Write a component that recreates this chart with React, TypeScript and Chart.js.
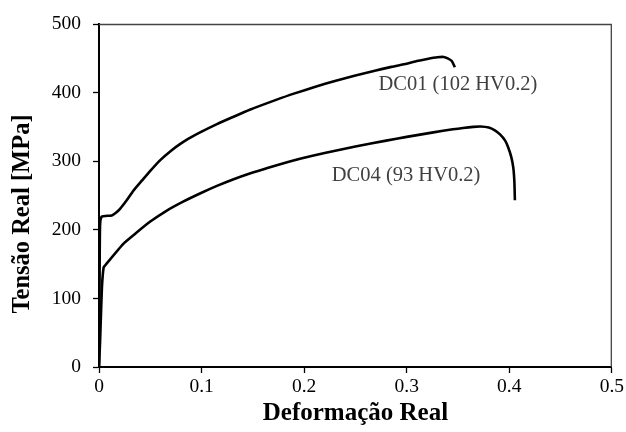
import React, { useEffect, useRef } from "react";
import { Chart, registerables } from "chart.js";

Chart.register(...registerables);

const xTicks = [0, 0.1, 0.2, 0.3, 0.4, 0.5];
const yTicks = [0, 100, 200, 300, 400, 500];

const dc01Strain = [0, 0.0005, 0.001, 0.0026, 0.0124, 0.0165, 0.0205, 0.027, 0.0335, 0.042, 0.05, 0.06, 0.07, 0.08, 0.09, 0.1, 0.115, 0.13, 0.147, 0.172, 0.19, 0.211, 0.23, 0.25, 0.268, 0.285, 0.3, 0.31, 0.32, 0.33, 0.336, 0.34, 0.344, 0.347];
const dc01Stress = [0, 100, 205, 219, 221, 225, 230.5, 243, 257, 272, 286, 302, 315, 326, 335, 343, 354, 364, 375, 389, 398.5, 408.5, 417, 425, 431.5, 437.5, 442, 446, 449, 451.5, 452, 450, 446, 437];

const dc04Strain = [0, 0.001, 0.002, 0.003, 0.0045, 0.0059, 0.0237, 0.035, 0.05, 0.065, 0.082, 0.1, 0.115, 0.13, 0.147, 0.165, 0.18, 0.2, 0.22, 0.25, 0.28, 0.3, 0.326, 0.345, 0.355, 0.365, 0.372, 0.38, 0.386, 0.391, 0.396, 0.399, 0.402, 0.404, 0.405, 0.4055];
const dc04Stress = [0, 35, 80, 120, 145, 148, 179.6, 194, 212, 227, 241, 254, 264, 273, 282, 290.5, 297, 305, 312, 321.5, 330, 335.5, 342, 346.5, 348.5, 350, 350.5, 349, 345, 339, 330, 320, 306, 290, 270, 243];

const seriesNames = ["DC01 (102 HV0.2)", "DC04 (93 HV0.2)"];
const xTitle = "Deformação Real";
const yTitle = "Tensão Real [MPa]";

const toPts = (xs: number[], ys: number[]) => xs.map((x, i) => ({ x, y: ys[i] }));

const overlay = {
  id: "overlay",
  afterDraw(chart: any) {
    const { ctx, chartArea } = chart;
    const xs = chart.scales.x;
    const ys = chart.scales.y;
    ctx.save();
    // top and right frame
    ctx.strokeStyle = "#444";
    ctx.lineWidth = 1.3;
    ctx.beginPath();
    ctx.moveTo(chartArea.left, chartArea.top + 0.5);
    ctx.lineTo(chartArea.right - 0.5, chartArea.top + 0.5);
    ctx.lineTo(chartArea.right - 0.5, chartArea.bottom);
    ctx.stroke();
    // series labels
    ctx.fillStyle = "#404040";
    ctx.font = '20.5px "Liberation Serif"';
    ctx.textAlign = "left";
    ctx.textBaseline = "middle";
    ctx.fillText(seriesNames[0], xs.getPixelForValue(0.2725), ys.getPixelForValue(412));
    ctx.fillText(seriesNames[1], xs.getPixelForValue(0.227), ys.getPixelForValue(279));
    // axis titles
    ctx.fillStyle = "#000";
    ctx.font = 'bold 25px "Liberation Serif"';
    ctx.textAlign = "center";
    ctx.textBaseline = "middle";
    ctx.fillText(xTitle, (chartArea.left + chartArea.right) / 2, 414);
    ctx.save();
    ctx.translate(23, 214);
    ctx.rotate(-Math.PI / 2);
    ctx.font = 'bold 24.5px "Liberation Serif"';
    ctx.fillText(yTitle, 0, 0);
    ctx.restore();
    ctx.restore();
  },
};

export default function App() {
  const ref = useRef<HTMLCanvasElement | null>(null);
  useEffect(() => {
    document.body.style.margin = "0";
    const canvas = ref.current!;
    const chart = new Chart(canvas, {
      type: "scatter",
      data: {
        datasets: [
          {
            label: seriesNames[0],
            data: toPts(dc01Strain, dc01Stress),
            showLine: true,
            borderColor: "#000",
            borderWidth: 2.6,
            pointRadius: 0,
            tension: 0.2,
            fill: false,
          },
          {
            label: seriesNames[1],
            data: toPts(dc04Strain, dc04Stress),
            showLine: true,
            borderColor: "#000",
            borderWidth: 2.6,
            pointRadius: 0,
            tension: 0.2,
            fill: false,
          },
        ],
      },
      options: {
        responsive: false,
        animation: false,
        layout: { padding: { top: 24, right: 14, left: 0, bottom: 0 } },
        plugins: {
          legend: { display: false },
          tooltip: { enabled: false },
        },
        scales: {
          x: {
            type: "linear",
            min: 0,
            max: 0.5,
            afterBuildTicks: (s: any) => {
              s.ticks = xTicks.map((v) => ({ value: v }));
            },
            afterFit: (s: any) => {
              s.height = 65;
            },
            border: { display: true, color: "#000", width: 2 },
            grid: { display: true, drawOnChartArea: false, drawTicks: true, tickLength: 6, color: "#000", tickWidth: 1.3 },
            ticks: {
              color: "#000",
              padding: 2,
              font: { family: "Liberation Serif", size: 19.5 },
              callback: (v: any) => String(Number(Number(v).toFixed(1))),
            },
          },
          y: {
            type: "linear",
            min: 0,
            max: 500,
            afterBuildTicks: (s: any) => {
              s.ticks = yTicks.map((v) => ({ value: v }));
            },
            afterFit: (s: any) => {
              s.width = 99;
            },
            border: { display: true, color: "#000", width: 2 },
            grid: { display: true, drawOnChartArea: false, drawTicks: true, tickLength: 6, color: "#000", tickWidth: 1.3 },
            ticks: {
              color: "#000",
              padding: 12,
              font: { family: "Liberation Serif", size: 19.5 },
              callback: (v: any) => String(v),
            },
          },
        },
      },
      plugins: [overlay],
    });
    return () => chart.destroy();
  }, []);
  return (
    <div style={{ position: "fixed", left: 0, top: 0, width: 626, height: 432, background: "#fff" }}>
      <canvas ref={ref} width={626} height={432} style={{ display: "block" }} />
    </div>
  );
}
